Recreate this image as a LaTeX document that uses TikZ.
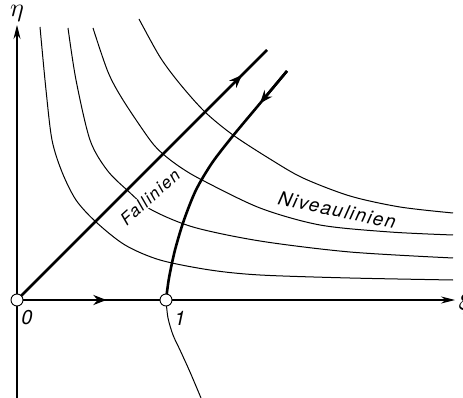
\documentclass[tikz,border=0pt]{standalone}
\usepackage{fontspec}
\newfontfamily\lblfont[LetterSpace=8]{TeX Gyre Heros}
\usetikzlibrary{arrows.meta,decorations.markings}
\begin{document}
\begin{tikzpicture}[x=1pt,y=-1pt,
  thinline/.style={line width=1pt},
  thickline/.style={line width=2.6pt},
  axisline/.style={line width=1.1pt,-{Stealth[length=14pt,width=7pt]}},
  pointnode/.style={circle,draw,fill=white,line width=0.9pt,inner sep=0pt,minimum size=12pt},
  midarrow/.style={postaction={decorate},decoration={markings,mark=at position #1 with {\arrow{Stealth[length=13pt,width=10pt]}}}},
  tiparrow/.style={line width=2.6pt,-{Stealth[length=13pt,width=10pt]}},
  lbl/.style={font=\lblfont\itshape\fontsize{19}{19}\selectfont, inner sep=0pt},
  mathlbl/.style={inner sep=0pt,scale=2.6}
]
\useasboundingbox (0,0) rectangle (463,398);
\coordinate (o) at (17,300);
\coordinate (e) at (166,300);
\coordinate (etaend) at (17,25);
\coordinate (etastart) at (17,398);
\coordinate (xiend) at (455,300);
\coordinate (diagend) at (267,50);
\coordinate (hypend) at (287,71);
\coordinate (hyparrow) at (260,103.4);
\coordinate (hypbot) at (201,398);
% axes
\draw[axisline] (etastart) -- (etaend);
\draw[axisline] (e) -- (xiend);
% level lines
\draw[thinline] plot[smooth] coordinates {(40,27) (46,90) (52,140) (62,172) (76,200) (96,222) (125,245) (160,260) (210,270) (260,275) (350,278) (453,280)};
\draw[thinline] plot[smooth] coordinates {(68,28) (76,80) (90,140) (107,170) (127,190) (150,209) (193,227) (260,241) (350,252) (453,258)};
\draw[thinline] plot[smooth] coordinates {(93,28) (108,72) (123,100) (150,140) (163,154) (180,167) (202,180) (260,208) (320,225) (390,232) (453,235)};
\draw[thinline] plot[smooth] coordinates {(139,19) (160,57) (180,84) (205,112) (233,135) (270,159) (303,178) (350,196) (400,207) (453,213)};
% steepest descent lines
\draw[thickline,midarrow=0.6] (o) -- (e);
\draw[thickline,midarrow=0.9] (o) -- (diagend);
\draw[thickline] plot[smooth] coordinates {(hypend) (257,107) (232,137) (212,163) (196,190) (184,220) (175,250) (169,278) (e)};
\draw[tiparrow] (hypend) -- (hyparrow);
\draw[thinline] plot[smooth] coordinates {(e) (168,318) (173,335) (180,350) (190,372) (hypbot)};
% points
\node[pointnode] (O) at (o) {};
\node[pointnode] (one) at (e) {};
% labels
\node[mathlbl] (eta) at (17,13) {$\eta$};
\node[mathlbl] (xi) at (465,303) {$\xi$};
\node[lbl,font=\lblfont\itshape\fontsize{20}{20}\selectfont] (zero) at (27,318) {0};
\node[lbl,font=\lblfont\itshape\fontsize{20}{20}\selectfont] (onelbl) at (180,318) {1};
\node[lbl,font=\lblfont\itshape\fontsize{17}{17}\selectfont,fill=white,inner sep=1pt,rotate=42] (fall) at (150,197) {Fallinien};
\node[lbl,rotate=-12] (niv) at (337,210) {Niveaulinien};
\end{tikzpicture}
\end{document}
